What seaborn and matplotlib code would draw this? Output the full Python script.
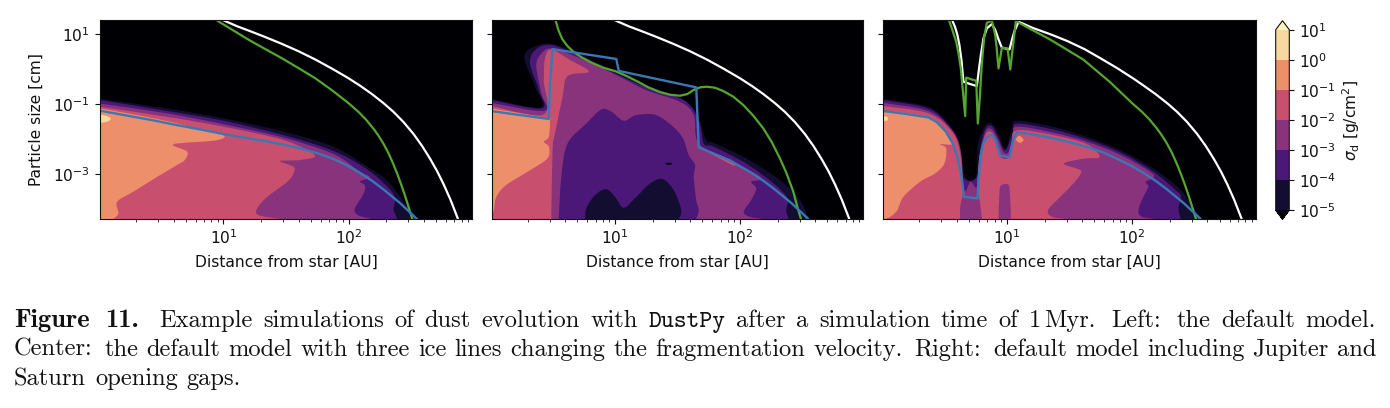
#!/usr/bin/env python3
"""Dust evolution panels: default model, ice lines, and planet gaps."""

import numpy as np
import matplotlib
matplotlib.use('Agg')
import matplotlib.pyplot as plt
from matplotlib.colors import BoundaryNorm, ListedColormap
from matplotlib.cm import ScalarMappable
from matplotlib.patches import PathPatch
from matplotlib.path import Path
from matplotlib.ticker import LogFormatterMathtext, LogLocator, NullLocator, NullFormatter
import seaborn as sns

# All curves are log10(distance / AU) and log10(size / cm)
# Left panel: default model
white1_r = [0.99, 1.02, 1.11, 1.20, 1.33, 1.467, 1.60, 1.734, 1.87, 2.00, 2.10, 2.187, 2.28, 2.36, 2.44, 2.52, 2.59, 2.653, 2.71, 2.76, 2.815, 2.875]
white1_a = [1.41, 1.36, 1.22, 1.10, 0.92, 0.72, 0.51, 0.275, 0.01, -0.26, -0.49, -0.71, -0.97, -1.22, -1.51, -1.85, -2.20, -2.56, -2.92, -3.28, -3.72, -4.27]
green1_r = [0.94, 0.96, 1.08, 1.20, 1.33, 1.467, 1.60, 1.734, 1.867, 2.00, 2.08, 2.14, 2.20, 2.24, 2.28, 2.32, 2.36, 2.39, 2.414, 2.454, 2.51]
green1_a = [1.41, 1.36, 1.10, 0.84, 0.58, 0.31, 0.03, -0.26, -0.60, -0.97, -1.22, -1.44, -1.70, -1.90, -2.13, -2.40, -2.72, -2.99, -3.22, -3.63, -4.27]
blue1_r = [0.013, 0.147, 0.28, 0.44, 0.60, 0.813, 1.00, 1.187, 1.347, 1.48, 1.613, 1.747, 1.88, 1.987, 2.093, 2.187, 2.28, 2.413, 2.547]
blue1_a = [-1.185, -1.27, -1.357, -1.46, -1.575, -1.717, -1.85, -1.965, -2.06, -2.15, -2.26, -2.39, -2.56, -2.74, -2.96, -3.18, -3.43, -3.82, -4.27]

p1_dark_r = [0.01, 0.55, 1.00, 1.48, 1.88, 2.15, 2.33, 2.49, 2.53]
p1_dark_a = [-0.84, -1.12, -1.40, -1.78, -2.21, -2.78, -3.25, -4.05, -4.27]
p1_purple_r = [0.01, 0.55, 1.00, 1.48, 1.88, 2.15, 2.33, 2.37, 2.36, 2.39]
p1_purple_a = [-0.88, -1.19, -1.47, -1.88, -2.33, -2.86, -3.42, -3.72, -4.00, -4.27]
p1_violet_r = [0.01, 0.55, 1.00, 1.48, 1.88, 2.09, 2.17, 2.09, 2.13, 2.12, 2.05, 2.08, 2.19]
p1_violet_a = [-0.98, -1.26, -1.57, -1.95, -2.42, -2.92, -3.08, -3.20, -3.31, -3.55, -3.98, -4.17, -4.27]
p1_red_r = [0.01, 0.55, 1.00, 1.48, 1.73, 1.61, 1.45, 1.56, 1.56, 1.51, 1.35, 1.27, 1.28, 1.45]
p1_red_a = [-1.07, -1.36, -1.64, -2.02, -2.45, -2.59, -2.62, -2.78, -2.97, -3.21, -3.64, -3.97, -4.16, -4.27]
p1_orange_r = [0.01, 0.28, 0.60, 0.81, 0.95, 1.01, 0.92, 0.60, 0.71, 0.69, 0.63, 0.47, 0.28, 0.15, 0.16, 0.12]
p1_orange_a = [-1.12, -1.29, -1.52, -1.72, -1.83, -1.93, -2.04, -2.14, -2.35, -2.59, -2.73, -3.07, -3.49, -3.78, -4.11, -4.27]
p1_pale_r = [0.01, 0.07, 0.10, 0.07, 0.01]
p1_pale_a = [-1.29, -1.34, -1.41, -1.50, -1.53]

# Centre panel: three ice lines
white2_r = white1_r
white2_a = white1_a
green2_r = [0.525, 0.547, 0.579, 0.619, 0.667, 0.733, 0.813, 0.907, 1.00, 1.093, 1.173, 1.267, 1.36, 1.44, 1.52, 1.579, 1.627, 1.68, 1.733, 1.80, 1.867, 1.947, 2.027, 2.107, 2.187, 2.253, 2.32, 2.373, 2.427, 2.459, 2.488]
green2_a = [1.38, 1.11, 0.848, 0.658, 0.496, 0.335, 0.183, 0.04, -0.055, -0.197, -0.34, -0.52, -0.653, -0.729, -0.758, -0.71, -0.596, -0.52, -0.50, -0.53, -0.625, -0.786, -1.024, -1.328, -1.69, -2.07, -2.544, -2.97, -3.494, -3.92, -4.27]
blue_tail_r = blue1_r[13:]
blue_tail_a = blue1_a[13:]
blue2_r = [0.02, 0.47, 0.48, 0.50, 1.01, 1.03, 1.65, 1.67, 1.92] + blue_tail_r
blue2_a = [-1.20, -1.42, -0.41, 0.57, 0.29, -0.05, -0.52, -2.23, -2.60] + blue_tail_a

p2_dark_r = [0.01, 0.40, 0.36, 0.28, 0.29, 0.37, 0.48, 0.67, 0.99, 1.25, 1.52, 1.65, 1.73, 1.79, 2.05, 2.32, 2.48, 2.55]
p2_dark_a = [-0.84, -1.09, -0.50, 0.21, 0.50, 0.66, 0.73, 0.50, -0.05, -0.45, -0.83, -1.26, -2.02, -2.10, -2.54, -3.16, -3.73, -4.27]
p2_purple_r = [0.01, 0.41, 0.39, 0.32, 0.36, 0.48, 0.67, 0.99, 1.25, 1.55, 1.67, 1.71, 1.79, 2.05, 2.27, 2.38, 2.37, 2.39]
p2_purple_a = [-0.88, -1.12, -0.60, 0.16, 0.54, 0.69, 0.45, -0.10, -0.52, -0.88, -1.45, -2.12, -2.21, -2.69, -3.26, -3.68, -4.02, -4.27]
p2_violet_r = [0.01, 0.43, 0.41, 0.37, 0.40, 0.49, 0.72, 1.01, 1.25, 1.52, 1.63, 1.67, 1.92, 2.17, 2.09, 2.13, 2.09, 2.03, 2.08, 2.19]
p2_violet_a = [-0.96, -1.19, -0.69, 0.07, 0.40, 0.59, 0.31, -0.17, -0.60, -0.93, -1.31, -2.12, -2.59, -3.09, -3.21, -3.40, -3.73, -4.06, -4.21, -4.27]
p2_inner_purple_r = [0.55, 0.57, 0.62, 0.77, 0.89, 0.97, 1.07, 1.17, 1.33, 1.48, 1.55, 1.59, 1.64, 1.63, 1.65, 1.67, 1.65]
p2_inner_purple_a = [-4.27, -3.07, -2.12, -1.55, -1.15, -1.21, -1.47, -1.31, -1.31, -1.69, -2.02, -2.45, -2.73, -3.07, -3.73, -4.02, -4.27]
p2_inner_dark_r = [0.76, 0.77, 0.84, 0.93, 1.00, 1.07, 1.17, 1.28, 1.38, 1.47, 1.53, 1.51]
p2_inner_dark_a = [-4.27, -3.97, -3.59, -3.42, -3.64, -3.95, -3.64, -3.26, -3.13, -3.45, -4.02, -4.27]
p2_speck_r = [1.40, 1.43, 1.46, 1.43]
p2_speck_a = [-2.70, -2.66, -2.70, -2.73]
p2_red_r = [0.01, 0.43, 0.43, 0.44, 0.49, 0.64, 0.79, 0.62, 0.58, 0.52, 0.50, 0.49]
p2_red_a = [-1.05, -1.29, -0.31, 0.31, 0.56, 0.26, -0.07, -0.20, -0.79, -1.83, -2.31, -4.27]
p2_strip_r = [1.67, 1.92, 1.95, 1.76]
p2_strip_a = [-2.21, -2.59, -2.75, -2.40]
p2_orange_r = [0.01, 0.47, 0.48, 0.47, 0.43, 0.47, 0.46, 0.32, 0.13, 0.05, 0.03, 0.01]
p2_orange_a = [-1.12, -1.40, -1.45, -1.93, -2.07, -2.21, -2.54, -2.88, -3.30, -3.64, -4.02, -4.27]

# Right panel: Jupiter and Saturn gaps
white3_r = [0.565, 0.587, 0.605, 0.621, 0.637, 0.653, 0.707, 0.76, 0.776, 0.792, 0.813, 0.84, 0.88, 0.907, 0.933, 0.96, 1.021, 1.04, 1.059, 1.093, 1.21, 1.35, 1.483, 1.62, 1.747, 1.88, 2.011, 2.10] + white1_r[11:]
white3_a = [1.38, 1.19, 0.971, 0.686, 0.26, -0.359, -0.425, -0.482, -0.026, 0.401, 0.876, 1.161, 1.285, 1.114, 0.848, 0.61, 0.563, 0.829, 1.066, 1.35, 1.17, 0.99, 0.80, 0.57, 0.31, 0.03, -0.27, -0.49] + white1_a[11:]
green3_r = [0.539, 0.565, 0.595, 0.616, 0.632, 0.648, 0.667, 0.675, 0.707, 0.755, 0.768, 0.784, 0.80, 0.819, 0.84, 0.88, 0.907, 0.92, 0.933, 0.96, 1.005, 1.027, 1.048, 1.072, 1.107, 1.347, 1.611, 1.827] + green1_r[9:]
green3_a = [1.38, 1.11, 0.78, 0.40, 0.02, -0.60, -1.34, -0.24, -0.28, -0.33, -1.55, -0.79, 0.16, 0.92, 1.32, 1.38, 0.97, 0.54, 0.02, 0.61, 0.59, -0.01, 0.64, 1.38, 1.30, 0.84, 0.27, -0.38] + green1_a[9:]
blue3_r = [0.019, 0.20, 0.373, 0.44, 0.507, 0.568, 0.605, 0.632, 0.648, 0.656, 0.765, 0.776, 0.789, 0.808, 0.832, 0.861, 0.888, 0.909, 0.933, 0.947, 1.021, 1.035, 1.053, 1.08, 1.24, 1.373, 1.507, 1.64, 1.773, 1.907] + blue_tail_r
blue3_a = [-1.195, -1.28, -1.375, -1.51, -1.755, -2.116, -2.497, -2.97, -3.35, -3.637, -3.684, -3.07, -2.497, -2.164, -1.974, -1.888, -1.888, -2.02, -2.306, -2.468, -2.506, -2.26, -1.974, -1.794, -1.88, -1.974, -2.088, -2.22, -2.38, -2.60] + blue_tail_a

p3_dark_r = [0.01, 0.37, 0.52, 0.61, 0.67, 0.75, 0.77, 0.83, 0.88, 0.93, 0.97, 1.00, 1.04, 1.08, 1.37, 1.64, 1.91, 2.17, 2.39, 2.55]
p3_dark_a = [-0.84, -1.07, -1.50, -2.02, -3.07, -3.07, -2.12, -1.59, -1.55, -1.83, -2.21, -2.21, -1.69, -1.47, -1.64, -1.93, -2.31, -2.83, -3.45, -4.27]
p3_purple_r = [0.01, 0.37, 0.53, 0.62, 0.65, 0.76, 0.79, 0.83, 0.88, 0.93, 0.97, 1.00, 1.05, 1.08, 1.37, 1.64, 1.91, 2.17, 2.36, 2.39, 2.37, 2.39]
p3_purple_a = [-0.88, -1.12, -1.59, -2.12, -3.07, -3.07, -2.21, -1.69, -1.62, -1.93, -2.26, -2.26, -1.78, -1.55, -1.72, -2.00, -2.38, -2.92, -3.49, -3.64, -3.97, -4.27]
p3_violet_r = [0.01, 0.37, 0.55, 0.63, 0.66, 0.71, 0.76, 0.78, 0.83, 0.88, 0.93, 0.97, 1.01, 1.05, 1.08, 1.37, 1.64, 1.91, 2.17, 2.11, 2.13, 2.09, 2.05, 2.08, 2.19]
p3_violet_a = [-0.96, -1.19, -1.69, -2.31, -3.45, -3.21, -3.35, -2.50, -1.78, -1.72, -2.02, -2.35, -2.38, -1.93, -1.64, -1.81, -2.07, -2.45, -3.00, -3.21, -3.35, -3.64, -4.02, -4.21, -4.27]
p3_red_left_r = [0.013, 0.373, 0.56, 0.627, 0.648, 0.627, 0.627]
p3_red_left_a = [-1.05, -1.26, -1.78, -2.40, -3.45, -3.92, -4.27]
p3_red_right_r = [0.80, 0.787, 0.765, 0.78, 0.827, 0.88, 0.92, 0.947, 1.013, 1.04, 1.08, 1.373, 1.64, 1.741, 1.613, 1.453, 1.587, 1.573, 1.507, 1.40, 1.328, 1.36, 1.48]
p3_red_right_a = [-4.27, -3.83, -3.35, -2.59, -1.88, -1.80, -2.12, -2.50, -2.52, -2.07, -1.74, -1.88, -2.14, -2.50, -2.55, -2.69, -2.88, -3.07, -3.35, -3.73, -4.02, -4.21, -4.27]
p3_blob_r = [0.933, 0.94, 0.952, 1.013, 1.027, 1.032]
p3_blob_a = [-4.27, -3.54, -3.32, -3.30, -3.73, -4.27]
p3_orange_r = [0.013, 0.373, 0.48, 0.568, 0.467, 0.515, 0.50, 0.427, 0.307, 0.173, 0.125, 0.067, 0.02]
p3_orange_a = [-1.17, -1.36, -1.69, -2.12, -2.14, -2.26, -2.69, -2.97, -3.21, -3.64, -4.02, -4.21, -4.27]
p3_spot_r = [1.067, 1.10, 1.133, 1.10, 1.067]
p3_spot_a = [-2.00, -1.90, -2.02, -2.10, -2.00]
p3_pale_r = [0.013, 0.04, 0.05, 0.04, 0.013]
p3_pale_a = [-1.34, -1.36, -1.41, -1.47, -1.47]

# Colour bar
levels = [1e-5, 1e-4, 1e-3, 1e-2, 1e-1, 1e0, 1e1]
band_colors = ['#120d31', '#4c1877', '#89337d', '#c8506e', '#ee8f6b', '#f8d8a0']
under_color = '#000004'
over_color = '#fcf4c0'

DARK, PURPLE, VIOLET, RED, ORANGE, PALE = band_colors

# (r, a, colour, region runs down to the lower left corner)
panel_fills = [
    [(p1_dark_r, p1_dark_a, DARK, True), (p1_purple_r, p1_purple_a, PURPLE, True),
     (p1_violet_r, p1_violet_a, VIOLET, True), (p1_red_r, p1_red_a, RED, True),
     (p1_orange_r, p1_orange_a, ORANGE, True), (p1_pale_r, p1_pale_a, PALE, False)],
    [(p2_dark_r, p2_dark_a, DARK, True), (p2_purple_r, p2_purple_a, PURPLE, True),
     (p2_violet_r, p2_violet_a, VIOLET, True), (p2_inner_purple_r, p2_inner_purple_a, PURPLE, False),
     (p2_inner_dark_r, p2_inner_dark_a, DARK, False), (p2_speck_r, p2_speck_a, under_color, False),
     (p2_red_r, p2_red_a, RED, True), (p2_strip_r, p2_strip_a, RED, False),
     (p2_orange_r, p2_orange_a, ORANGE, True)],
    [(p3_dark_r, p3_dark_a, DARK, True), (p3_purple_r, p3_purple_a, PURPLE, True),
     (p3_violet_r, p3_violet_a, VIOLET, True), (p3_red_left_r, p3_red_left_a, RED, True),
     (p3_red_right_r, p3_red_right_a, RED, False), (p3_blob_r, p3_blob_a, VIOLET, False),
     (p3_orange_r, p3_orange_a, ORANGE, True), (p3_spot_r, p3_spot_a, ORANGE, False),
     (p3_pale_r, p3_pale_a, PALE, False)],
]
panel_lines = [
    (white1_r, white1_a, green1_r, green1_a, blue1_r, blue1_a),
    (white2_r, white2_a, green2_r, green2_a, blue2_r, blue2_a),
    (white3_r, white3_a, green3_r, green3_a, blue3_r, blue3_a),
]

FS = 11.2
sns.set_theme(style='ticks', rc={'axes.linewidth': 0.8, 'axes.edgecolor': '#111111', 'text.color': '#111111',
                                 'axes.labelcolor': '#111111', 'xtick.color': '#111111', 'ytick.color': '#111111'})
plt.rcParams['font.family'] = ['DejaVu Sans']

W, H = 1390, 408
fig = plt.figure(figsize=(W / 100, H / 100), dpi=100, facecolor='white')


def px_axes(left, right, top, bottom):
    return fig.add_axes([left / W, (H - bottom) / H, (right - left) / W, (bottom - top) / H])


def fill_region(ax, r, a, color, to_corner):
    # contour edges are smooth, so pass a Catmull-Rom curve through the read points
    pts = np.column_stack([r, a])
    ext = np.vstack([pts[0], pts, pts[-1]])
    verts = [pts[0]]
    codes = [Path.MOVETO]
    for i in range(1, len(ext) - 2):
        verts += [ext[i] + (ext[i + 1] - ext[i - 1]) / 6, ext[i + 1] - (ext[i + 2] - ext[i]) / 6, ext[i + 1]]
        codes += [Path.CURVE4] * 3
    if to_corner:
        verts += [(-0.05, -4.4), (-0.05, a[0])]
        codes += [Path.LINETO, Path.LINETO]
    verts.append(pts[0])
    codes.append(Path.CLOSEPOLY)
    ax.add_patch(PathPatch(Path(10 ** np.array(verts), codes), facecolor=color, edgecolor='none', lw=0))


panel_spans = [(100, 472), (491.7, 863.3), (883.3, 1255.7)]
for i, (left, right) in enumerate(panel_spans):
    ax = px_axes(left, right, 20, 219)
    ax.set_facecolor(under_color)
    ax.set_xscale('log')
    ax.set_yscale('log')
    for r, a, color, to_corner in panel_fills[i]:
        fill_region(ax, r, a, color, to_corner)

    wr, wa, gr, ga, br, ba = panel_lines[i]
    for r, a, color, lw in [(wr, wa, 'white', 1.6), (gr, ga, '#55a630', 1.6), (br, ba, '#3a78b5', 1.7)]:
        sns.lineplot(x=10 ** np.array(r), y=10 ** np.array(a), color=color, lw=lw,
                     sort=False, estimator=None, ax=ax, legend=False)

    ax.set_xlim(10 ** 0.013, 10 ** 2.987)
    ax.set_ylim(10 ** -4.27, 10 ** 1.40)
    ax.set_yticks([1e1, 1e-1, 1e-3])
    ax.yaxis.set_minor_locator(NullLocator())
    ax.xaxis.set_major_locator(LogLocator(base=10.0, numticks=5))
    ax.xaxis.set_minor_locator(LogLocator(base=10.0, subs=np.arange(2, 10), numticks=12))
    ax.xaxis.set_minor_formatter(NullFormatter())
    ax.tick_params(axis='both', which='major', labelsize=FS, length=3.5, width=0.8)
    ax.tick_params(axis='x', which='minor', length=2, width=0.6)
    ax.set_xlabel('Distance from star [AU]', fontsize=FS, labelpad=5)
    if i == 0:
        ax.set_ylabel('Particle size [cm]', fontsize=FS, labelpad=7)
    else:
        ax.tick_params(axis='y', labelleft=False)

# Colour bar with both extensions
cmap = ListedColormap(band_colors)
cmap.set_under(under_color)
cmap.set_over(over_color)
norm = BoundaryNorm(levels, cmap.N)
cax = px_axes(1275.7, 1289.3, 20.7, 219.3)
cbar = fig.colorbar(ScalarMappable(norm=norm, cmap=cmap), cax=cax, extend='both', spacing='uniform',
                    ticks=levels, format=LogFormatterMathtext())
cbar.ax.minorticks_off()
cbar.ax.tick_params(labelsize=FS, length=3.5, width=0.8)
cbar.set_label(r'$\sigma_\mathrm{d}$ [g/cm$^2$]', fontsize=FS, labelpad=3)

# Caption, spread to the full width like a typeset paragraph
BOLD, ROMAN, MONO = 'cmb10', 'cmr10', 'cmtt10'
caption_lines = [
    (327, True, [('Figure', BOLD), ('11.', BOLD), ('Example', ROMAN), ('simulations', ROMAN), ('of', ROMAN),
                 ('dust', ROMAN), ('evolution', ROMAN), ('with', ROMAN), ('DustPy', MONO), ('after', ROMAN),
                 ('a', ROMAN), ('simulation', ROMAN), ('time', ROMAN), ('of', ROMAN), ('1', ROMAN), ('Myr.', ROMAN),
                 ('Left:', ROMAN), ('the', ROMAN), ('default', ROMAN), ('model.', ROMAN)]),
    (356, True, [('Center:', ROMAN), ('the', ROMAN), ('default', ROMAN), ('model', ROMAN), ('with', ROMAN),
                 ('three', ROMAN), ('ice', ROMAN), ('lines', ROMAN), ('changing', ROMAN), ('the', ROMAN),
                 ('fragmentation', ROMAN), ('velocity.', ROMAN), ('Right:', ROMAN), ('default', ROMAN),
                 ('model', ROMAN), ('including', ROMAN), ('Jupiter', ROMAN), ('and', ROMAN)]),
    (385, False, [('Saturn', ROMAN), ('opening', ROMAN), ('gaps.', ROMAN)]),
]


def gap_weight(word):
    if word == '1':
        return 0.3
    if word == 'Figure':
        return 1.5
    if word == '11.':
        return 1.9
    return 1.5 if word[-1] in '.:' else 1.0


renderer = fig.canvas.get_renderer()
for y, justify, words in caption_lines:
    artists = [fig.text(0, 1 - y / H, w, family=f, fontsize=19 if f == BOLD else 17.6,
                        color='#111111', va='baseline') for w, f in words]
    widths = [t.get_window_extent(renderer).width for t in artists]
    weights = [gap_weight(w) for w, f in words[:-1]]
    gap = (1376 - 14 - sum(widths)) / sum(weights) if justify else 9.0
    x = 14.0
    for t, w, wt in zip(artists, widths, weights + [0]):
        t.set_x(x / W)
        x += w + gap * wt

fig.savefig('out.png', dpi=100)
